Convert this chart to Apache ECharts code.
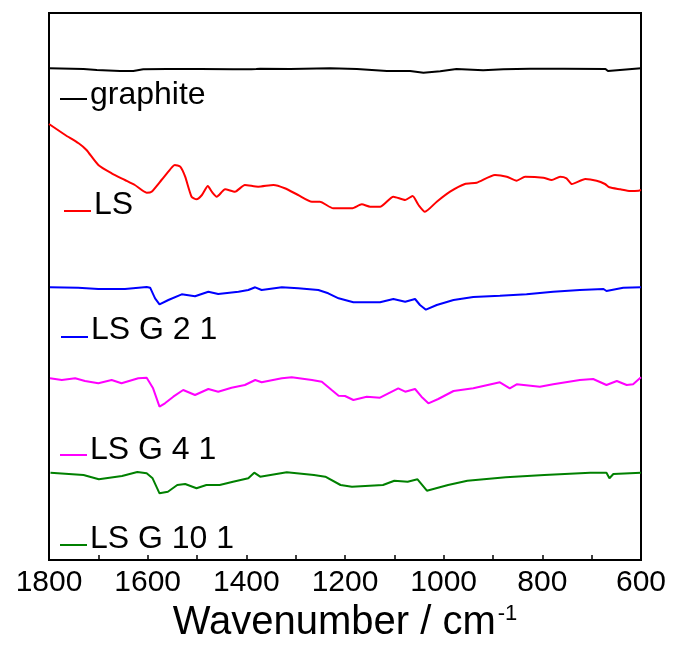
<!DOCTYPE html>
<html>
<head>
<meta charset="utf-8">
<script src="https://cdn.jsdelivr.net/npm/echarts@6/dist/echarts.min.js"></script>
<style>
  html, body { margin: 0; padding: 0; background: #fff; }
  #main { width: 675px; height: 648px; }
</style>
</head>
<body>
<div id="main"></div>
<script>
  // 各样品的 FTIR 谱线 (波数 / 相对强度, 已叠加偏移)
  const graphiteX = [1800,1730,1703,1656,1629,1609,1561,1494,1427,1390,1386,1380,1372,1311,1230,1176,1115,1068,1041,1007,974,920,879,825,757,672,667,663,600]
  const graphiteY = [491.7,491,490,489,489,490.7,491,491,490.7,490.7,489.3,491,491.3,491,491.7,491,489,489,487.3,488.7,491,489.7,490.7,491.3,491.3,491,489,491,491.7]

  const lsX = [1800,1767,1740,1724,1700,1673,1646,1626,1602,1592,1572,1551,1545,1534,1524,1511,1501,1490,1478,1470,1460,1443,1423,1403,1376,1345,1322,1295,1267,1251,1224,1203,1186,1166,1149,1129,1102,1078,1063,1051,1038,1014,987,957,933,896,872,852,835,798,781,764,751,740,713,690,673,664,642,622,605,600]
  const lsY = [436,425,416.7,410,395,386.7,380,375,367.3,368.3,380,392.7,395,393.3,383.3,363.3,360.7,365,374,368.3,363.3,370.7,368.3,375,373.3,375,371.7,365,358.3,358.3,351.7,351.7,351.7,355.7,353.3,353.3,363.3,360,364,355,348.3,358.3,368.3,376,377.3,385,383.3,379.3,383.3,382.3,380,383.3,381.7,376,381,379.3,376,372.7,370.7,369,369.3,370]

  const lsg21X = [1798,1741,1700,1646,1602,1595,1585,1576,1558,1531,1504,1477,1457,1416,1396,1382,1369,1328,1295,1254,1234,1213,1200,1183,1129,1102,1078,1058,1048,1036,1014,980,940,886,832,778,724,676,670,636,600]
  const lsg21Y = [272.7,272.3,271,271,273,272.3,261.7,255.7,260,265.7,263.7,268.3,266,268.3,270,272.7,270,272.7,271.7,270,266.7,261.7,260,257.7,257.7,261,258.3,261,255,250.3,255,260,263,264.3,265.7,268.3,270,271,269,272.3,272.7]

  const lsg41X = [1798,1774,1747,1727,1700,1673,1653,1619,1602,1589,1576,1565,1548,1528,1504,1477,1457,1430,1403,1382,1369,1328,1308,1267,1247,1227,1213,1200,1183,1156,1129,1092,1078,1058,1045,1031,1011,980,940,886,866,852,805,778,724,697,670,649,629,616,600]
  const lsg41Y = [181.7,180,181.7,179,176.7,180,176.7,181.7,182.3,171.7,153.3,156.7,163.3,170,165,171,168.3,172.3,175,180,177.7,181.7,182.7,180,178.3,170,164.3,164,160,163.3,162.3,171.7,168.3,171,163.3,156.7,161,169,171.7,177.7,171.7,175.7,173.3,175.7,180,181,175,179,175,175.7,182.7]

  const lsg101X = [1797,1730,1699,1652,1621,1602,1590,1576,1559,1540,1524,1501,1481,1454,1427,1396,1384,1372,1318,1263,1240,1209,1186,1123,1100,1073,1053,1034,991,952,874,796,703,670,664,656,600]
  const lsg101Y = [87.3,85,80.7,84,88,86.7,81.7,66.7,68.3,75,76,71.7,75,75,78.3,81.7,87.3,83.3,87.7,85,83.3,75,73.3,75,79.3,78.3,80.7,69.3,75,79.3,82.7,85,87.3,87.3,81.7,86,87.3]

  const names = ['graphite', 'LS', 'LS G 2 1', 'LS G 4 1', 'LS G 10 1']
  const colors = ['#000000', '#ff0000', '#0000ff', '#ff00ff', '#008000']
  const xs = [graphiteX, lsX, lsg21X, lsg41X, lsg101X]
  const ys = [graphiteY, lsY, lsg21Y, lsg41Y, lsg101Y]

  // 标签位置: [短线左端x, 短线y, 文字基线y]
  const labelPos = [[60, 99, 106], [64, 211, 216], [61, 337, 341], [60, 455, 461], [60, 545, 550]]

  const font = 'Arial, "Liberation Sans", sans-serif'

  let myChart = echarts.init(document.getElementById('main'), null, {renderer: 'canvas'})

  let series = names.map((n, i) => ({
    name: n,
    type: 'line',
    data: xs[i].map((x, j) => [x, ys[i][j]]),
    showSymbol: false,
    smooth: i === 1 ? 0.2 : false,
    lineStyle: {color: colors[i], width: 2},
    itemStyle: {color: colors[i]},
    silent: true
  }))

  // 图中的样品标签 (短线 + 名称)
  let labels = []
  names.forEach((n, i) => {
    let p = labelPos[i]
    labels.push({
      type: 'line', silent: true,
      shape: {x1: p[0], y1: p[1], x2: p[0] + 27, y2: p[1]},
      style: {stroke: colors[i], lineWidth: 2}
    })
    labels.push({
      type: 'text', silent: true,
      x: p[0] + 30, y: p[2] - 11,
      style: {text: n, font: '32px ' + font, fill: '#000', verticalAlign: 'middle'}
    })
  })

  let option = {
    animation: false,
    backgroundColor: '#fff',
    grid: {
      left: 49, right: 34, top: 13, bottom: 88,
      show: true, borderColor: '#000', borderWidth: 2
    },
    graphic: {elements: labels},
    xAxis: {
      type: 'value',
      inverse: true,
      min: 600, max: 1800, interval: 100,
      name: 'Wavenumber / cm{sup|-1}',
      nameLocation: 'middle',
      nameGap: 41,
      nameTextStyle: {
        fontSize: 40, color: '#000', fontFamily: font,
        rich: {sup: {fontSize: 22, color: '#000', fontFamily: font, verticalAlign: 'top', padding: [0, 0, 0, 2]}}
      },
      axisLine: {lineStyle: {color: '#000', width: 2}},
      axisTick: {inside: true, length: 5, lineStyle: {color: '#000', width: 1.5}},
      axisLabel: {
        fontSize: 30, color: '#000', fontFamily: font, margin: 8,
        formatter: (v) => (v % 200 === 0 ? String(v) : '')
      },
      splitLine: {show: false}
    },
    yAxis: {
      type: 'value', min: 0, max: 547,
      axisLine: {show: true, lineStyle: {color: '#000', width: 2}},
      axisTick: {show: false}, axisLabel: {show: false}, splitLine: {show: false}
    },
    series: series
  }
  myChart.setOption(option)
  window.addEventListener('resize', myChart.resize)
</script>
</body>
</html>
